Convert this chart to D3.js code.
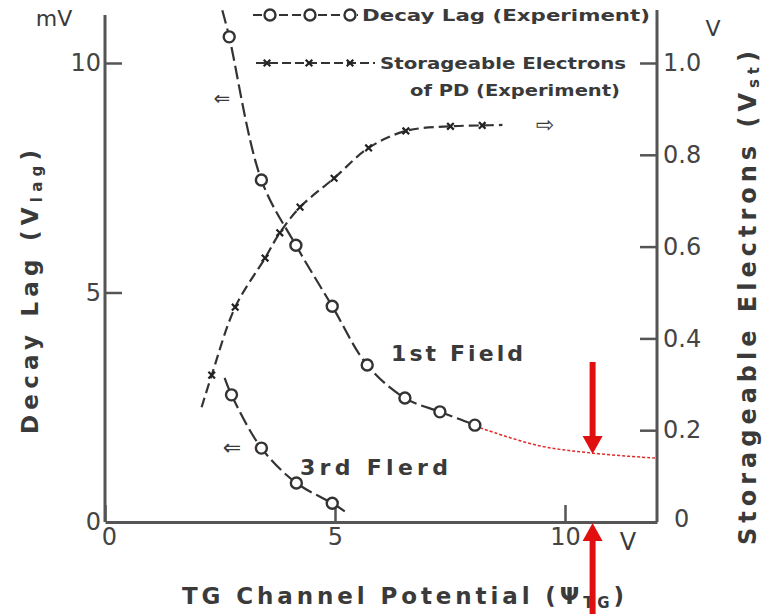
<!DOCTYPE html>
<html>
<head>
<meta charset="utf-8">
<script src="https://cdn.jsdelivr.net/npm/d3@7"></script>
<style>
body { margin: 0; background: #fff; }
text { font-family: "DejaVu Sans", sans-serif; fill: #3a3a3a; }
</style>
</head>
<body>
<script>
// TG channel potential (V) vs decay lag (mV) and storageable electrons (V)
var lag1X = [2.7, 3.4, 4.15, 4.94, 5.7, 6.52, 7.28, 8.04];
var lag1Y = [10.57, 7.45, 6.03, 4.7, 3.42, 2.7, 2.4, 2.11];
var lag1Ends = [[2.55, 11.15], [8.16, 2.05]];

var lag3X = [2.75, 3.4, 4.16, 4.94];
var lag3Y = [2.77, 1.61, 0.85, 0.41];
var lag3Ends = [[2.6, 3.14], [5.26, 0.2]];

var stX = [2.32, 2.83, 3.48, 3.8, 4.24, 4.98, 5.73, 6.54, 7.51, 8.2];
var stY = [0.32, 0.468, 0.575, 0.63, 0.686, 0.749, 0.815, 0.852, 0.862, 0.864];
var stEnds = [[2.1, 0.25], [8.64, 0.865]];

// red extrapolation of the 1st field lag
var extX = [8.16, 9.4, 10.6, 12];
var extY = [2.05, 1.67, 1.5, 1.39];
var markV = 10.6;

var xTicks = [0, 5, 10];
var lagTicks = [0, 5, 10];
var stTicks = [0, 0.2, 0.4, 0.6, 0.8, 1.0];

var width = 768, height = 614;
var x = d3.scaleLinear([0, 12], [105, 657]);
var yL = d3.scaleLinear([0, 10], [522, 63]);
var yR = d3.scaleLinear([0, 1], [522, 63]);

var svg = d3.select("body").append("svg")
	.attr("width", width)
	.attr("height", height);

// axes
var gx = svg.append("g")
	.attr("transform", "translate(0,522)")
	.call(d3.axisBottom(x).tickValues(xTicks).tickSizeInner(-17).tickSizeOuter(0).tickPadding(4));
gx.selectAll("text").style("font-size", "24px").attr("dy", "0.8em");
gx.selectAll(".tick").filter(function(d){ return d === 0; }).select("text").attr("dx", 4);

var gl = svg.append("g")
	.attr("transform", "translate(105,0)")
	.call(d3.axisLeft(yL).tickValues(lagTicks).tickSizeInner(-17).tickSizeOuter(0).tickPadding(4));
gl.selectAll("text").style("font-size", "24px");
gl.selectAll(".tick").filter(function(d){ return d === 0; }).select("line").remove();
gl.select(".domain").attr("d", "M0,15V522");

var gr = svg.append("g")
	.attr("transform", "translate(657,0)")
	.call(d3.axisRight(yR).tickValues(stTicks).tickSizeInner(-17).tickSizeOuter(0).tickPadding(6)
		.tickFormat(function(d){ return d === 0 ? "0" : d3.format(".1f")(d); }));
gr.selectAll("text").style("font-size", "24px");
gr.selectAll(".tick").filter(function(d){ return d === 0; }).select("line").remove();
gr.selectAll(".tick").filter(function(d){ return d === 0; }).select("text").attr("x", 17).attr("dy", "0.2em");
gr.select(".domain").attr("d", "M0,10V522");

svg.selectAll(".domain").attr("stroke", "#555").attr("stroke-width", 3);
svg.selectAll(".tick line").attr("stroke", "#555").attr("stroke-width", 2.5);
svg.selectAll(".tick text").style("fill", "#444");

// unit labels
svg.append("text").attr("x", 54).attr("y", 26).attr("text-anchor", "middle").style("font-size", "22px").text("mV");
svg.append("text").attr("x", 713).attr("y", 36).attr("text-anchor", "middle").style("font-size", "22px").text("V");
svg.append("text").attr("x", 628).attr("y", 550).attr("text-anchor", "middle").style("font-size", "24px").text("V");

// axis titles
var lt = svg.append("text").attr("transform", "translate(38,292) rotate(-90)")
	.attr("text-anchor", "middle").style("font-size", "23px").style("font-weight", "bold")
	.attr("textLength", 284).attr("lengthAdjust", "spacing");
lt.append("tspan").text("Decay  Lag  (V");
lt.append("tspan").attr("dy", 4).style("font-size", "15px").text("lag");
lt.append("tspan").attr("dy", -4).text(")");

var rt = svg.append("text").attr("transform", "translate(756,298) rotate(-90)")
	.attr("text-anchor", "middle").style("font-size", "24px").style("font-weight", "bold")
	.attr("textLength", 494).attr("lengthAdjust", "spacing");
rt.append("tspan").text("Storageable  Electrons  (V");
rt.append("tspan").attr("dy", 3).style("font-size", "15px").text("st");
rt.append("tspan").attr("dy", -3).text(")");

var bt = svg.append("text").attr("x", 182).attr("y", 604)
	.style("font-size", "23px").style("font-weight", "bold")
	.attr("textLength", 442).attr("lengthAdjust", "spacing");
bt.append("tspan").text("TG   Channel   Potential  (\u03A8");
bt.append("tspan").attr("dy", 4).style("font-size", "15px").text("TG");
bt.append("tspan").attr("dy", -4).text(")");

// curves
var lineL = d3.line().x(function(d){ return x(d[0]); }).y(function(d){ return yL(d[1]); }).curve(d3.curveCatmullRom.alpha(0.5));
var lineR = d3.line().x(function(d){ return x(d[0]); }).y(function(d){ return yR(d[1]); }).curve(d3.curveCatmullRom.alpha(0.5));

function pts(xs, ys, ends) {
	var p = xs.map(function(v, i){ return [v, ys[i]]; });
	return [ends[0]].concat(p, [ends[1]]);
}

svg.append("path").datum(pts(lag1X, lag1Y, lag1Ends)).attr("d", lineL)
	.attr("fill", "none").attr("stroke", "#333").attr("stroke-width", 2.2).attr("stroke-dasharray", "14,5");
svg.append("path").datum(pts(lag3X, lag3Y, lag3Ends)).attr("d", lineL)
	.attr("fill", "none").attr("stroke", "#333").attr("stroke-width", 2.2).attr("stroke-dasharray", "14,5");
svg.append("path").datum(pts(stX, stY, stEnds)).attr("d", lineR)
	.attr("fill", "none").attr("stroke", "#333").attr("stroke-width", 2.2).attr("stroke-dasharray", "10,5");

svg.append("path").datum(extX.map(function(v, i){ return [v, extY[i]]; })).attr("d", lineL)
	.attr("fill", "none").attr("stroke", "#e02a2a").attr("stroke-width", 1.5).attr("stroke-dasharray", "3,2");

// markers
function circles(xs, ys) {
	svg.append("g").selectAll("circle")
		.data(xs.map(function(v, i){ return [v, ys[i]]; }))
		.enter().append("circle")
		.attr("cx", function(d){ return x(d[0]); })
		.attr("cy", function(d){ return yL(d[1]); })
		.attr("r", 5.5)
		.attr("fill", "#fff").attr("stroke", "#333").attr("stroke-width", 2.4);
}
circles(lag1X, lag1Y);
circles(lag3X, lag3Y);

svg.append("g").selectAll("path")
	.data(stX.map(function(v, i){ return [v, stY[i]]; }))
	.enter().append("path")
	.attr("transform", function(d){ return "translate(" + x(d[0]) + "," + yR(d[1]) + ")"; })
	.attr("d", d3.symbol(d3.symbolTimes, 30))
	.attr("fill", "none").attr("stroke", "#222").attr("stroke-width", 2.2);

// legend
var leg = svg.append("g");
leg.append("line").attr("x1", 253).attr("x2", 358).attr("y1", 15).attr("y2", 15)
	.attr("stroke", "#333").attr("stroke-width", 2).attr("stroke-dasharray", "9,4");
leg.selectAll("circle").data([270, 310, 350]).enter().append("circle")
	.attr("cx", function(d){ return d; }).attr("cy", 15).attr("r", 5.5)
	.attr("fill", "#fff").attr("stroke", "#333").attr("stroke-width", 2.4);
leg.append("text").attr("x", 362).attr("y", 21).style("font-size", "16px").style("font-weight", "bold")
	.attr("textLength", 288).attr("lengthAdjust", "spacingAndGlyphs").text("Decay  Lag (Experiment)");

leg.append("line").attr("x1", 256).attr("x2", 375).attr("y1", 63).attr("y2", 63)
	.attr("stroke", "#333").attr("stroke-width", 2).attr("stroke-dasharray", "9,4");
leg.selectAll(".lx").data([267, 309, 350]).enter().append("path").attr("class", "lx")
	.attr("transform", function(d){ return "translate(" + d + ",63)"; })
	.attr("d", d3.symbol(d3.symbolTimes, 30))
	.attr("fill", "none").attr("stroke", "#222").attr("stroke-width", 2.2);
leg.append("text").attr("x", 380).attr("y", 69).style("font-size", "16px").style("font-weight", "bold")
	.attr("textLength", 246).attr("lengthAdjust", "spacingAndGlyphs").text("Storageable  Electrons");
leg.append("text").attr("x", 410).attr("y", 96).style("font-size", "16px").style("font-weight", "bold")
	.attr("textLength", 210).attr("lengthAdjust", "spacingAndGlyphs").text("of  PD  (Experiment)");

// curve notes
svg.append("text").attr("x", 391).attr("y", 361).style("font-size", "22px").style("font-weight", "bold")
	.attr("textLength", 132).attr("lengthAdjust", "spacing").text("1st  Field");
svg.append("text").attr("x", 300).attr("y", 475).style("font-size", "22px").style("font-weight", "bold")
	.attr("textLength", 148).attr("lengthAdjust", "spacing").text("3rd  Flerd");
svg.append("text").attr("x", 222).attr("y", 105).attr("text-anchor", "middle").style("font-size", "20px").text("\u21D0");
svg.append("text").attr("x", 232).attr("y", 455).attr("text-anchor", "middle").style("font-size", "22px").text("\u21D0");
svg.append("text").attr("x", 545).attr("y", 132).attr("text-anchor", "middle").style("font-size", "22px").text("\u21E8");

// red markers at the read-off potential
var red = "#e01010";
svg.append("line").attr("x1", x(markV)).attr("x2", x(markV)).attr("y1", 362).attr("y2", 440)
	.attr("stroke", red).attr("stroke-width", 6);
svg.append("path").attr("d", "M" + (x(markV) - 10) + ",436L" + (x(markV) + 10) + ",436L" + x(markV) + ",454Z").attr("fill", red);
svg.append("line").attr("x1", x(markV)).attr("x2", x(markV)).attr("y1", 614).attr("y2", 538)
	.attr("stroke", red).attr("stroke-width", 6);
svg.append("path").attr("d", "M" + (x(markV) - 10) + ",541L" + (x(markV) + 10) + ",541L" + x(markV) + ",523Z").attr("fill", red);
</script>
</body>
</html>
